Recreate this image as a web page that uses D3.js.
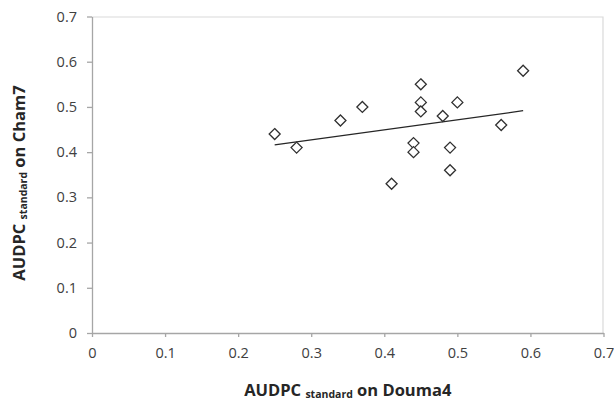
<!DOCTYPE html>
<html>
<head>
<meta charset="utf-8">
<script src="https://cdn.jsdelivr.net/npm/d3@7"></script>
<style>
  body { margin: 0; background: #fff; }
  svg { display: block; }
</style>
</head>
<body>
<div id="chart"></div>
<script>

// AUDPC standard values, Douma4 (x) vs Cham7 (y)
var douma4 = [0.25, 0.28, 0.34, 0.37, 0.41, 0.44, 0.44, 0.45, 0.45, 0.45, 0.48, 0.49, 0.49, 0.50, 0.56, 0.59]
var cham7  = [0.44, 0.41, 0.47, 0.50, 0.33, 0.42, 0.40, 0.55, 0.51, 0.49, 0.48, 0.41, 0.36, 0.51, 0.46, 0.58]

var xTicks = [0, 0.1, 0.2, 0.3, 0.4, 0.5, 0.6, 0.7]
var yTicks = [0, 0.1, 0.2, 0.3, 0.4, 0.5, 0.6, 0.7]

var width = 614
var height = 400
var margin = {top: 16.5, right: 10.5, bottom: 67, left: 92}

var innerW = width - margin.left - margin.right
var innerH = height - margin.top - margin.bottom

var fmt = d => d === 0 ? "0" : d3.format(".1f")(d)

var x = d3.scaleLinear().domain([0, 0.7]).range([0, innerW])
var y = d3.scaleLinear().domain([0, 0.7]).range([innerH, 0])

var svg = d3.select("#chart")
	.append("svg")
	.attr("width", width)
	.attr("height", height)

var g = svg.append("g")
	.attr("transform", "translate(" + margin.left + "," + margin.top + ")")

// light frame on top and right
g.append("path")
	.attr("d", `M0,0.5 H${innerW - 0.5} V${innerH}`)
	.attr("fill", "none")
	.attr("stroke", "#dadada")
	.attr("stroke-width", 1.2)

var xAxis = g.append("g")
	.attr("transform", "translate(0," + innerH + ")")
	.call(d3.axisBottom(x).tickValues(xTicks).tickFormat(fmt).tickSize(4).tickSizeOuter(0).tickPadding(11))

var yAxis = g.append("g")
	.call(d3.axisLeft(y).tickValues(yTicks).tickFormat(fmt).tickSize(5).tickSizeOuter(0).tickPadding(10))

svg.selectAll(".domain, .tick line")
	.attr("stroke", "#a6a6a6")
	.attr("stroke-width", 1.3)

svg.selectAll(".tick text")
	.attr("fill", "#404040")
	.attr("font-family", "'Open Sans', sans-serif")
	.attr("font-size", 14.5)

// least squares trend line
var pts = douma4.map((d, i) => [d, cham7[i]])
var mx = d3.mean(douma4)
var my = d3.mean(cham7)
var slope = d3.sum(pts, p => (p[0] - mx) * (p[1] - my)) / d3.sum(pts, p => (p[0] - mx) * (p[0] - mx))
var icpt = my - slope * mx
var ext = d3.extent(douma4)

g.append("line")
	.attr("x1", x(ext[0]))
	.attr("y1", y(icpt + slope * ext[0]))
	.attr("x2", x(ext[1]))
	.attr("y2", y(icpt + slope * ext[1]))
	.attr("stroke", "#262626")
	.attr("stroke-width", 1.3)

// diamond markers
g.append("g")
	.selectAll("path")
	.data(pts)
	.join("path")
	.attr("transform", d => `translate(${x(d[0])},${y(d[1])})`)
	.attr("d", "M0,-5.5 L5.5,0 L0,5.5 L-5.5,0 Z")
	.attr("fill", "#fff")
	.attr("stroke", "#303030")
	.attr("stroke-width", 1.3)

// axis titles
var xTitle = svg.append("text")
	.attr("x", margin.left + innerW / 2)
	.attr("y", 396)
	.attr("text-anchor", "middle")
	.attr("font-family", "'Open Sans', sans-serif")
	.attr("font-weight", "bold")
	.attr("font-size", 16.5)
	.attr("fill", "#262626")

xTitle.append("tspan").text("AUDPC ")
xTitle.append("tspan").attr("font-size", 10.5).attr("dy", 2).text("standard")
xTitle.append("tspan").attr("dy", -2).text(" on Douma4")

var yTitle = svg.append("text")
	.attr("transform", "translate(25,183) rotate(-90)")
	.attr("text-anchor", "middle")
	.attr("font-family", "'Open Sans', sans-serif")
	.attr("font-weight", "bold")
	.attr("font-size", 16.5)
	.attr("fill", "#262626")

yTitle.append("tspan").text("AUDPC ")
yTitle.append("tspan").attr("font-size", 10.5).attr("dy", 2).text("standard")
yTitle.append("tspan").attr("dy", -2).text(" on Cham7")

</script>
</body>
</html>
